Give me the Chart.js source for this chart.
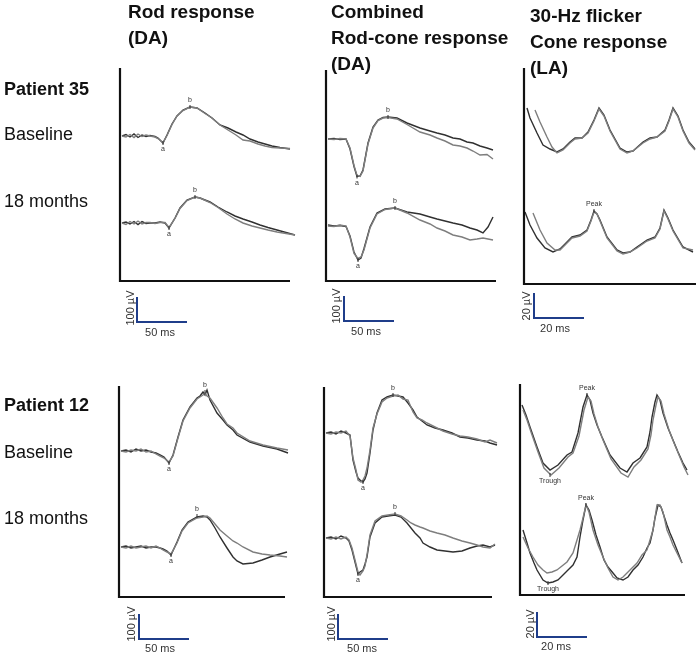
<!DOCTYPE html>
<html><head><meta charset="utf-8">
<script src="https://cdn.jsdelivr.net/npm/chart.js@4.4.0/dist/chart.umd.min.js"></script>
<style>
html,body{margin:0;padding:0;background:#fff;}
#wrap{position:relative;width:696px;height:654px;overflow:hidden;font-family:"Liberation Sans",Arial,sans-serif;color:#111;}
canvas.layer{position:absolute;left:0;top:0;}
.t{position:absolute;font-weight:bold;font-size:19px;line-height:26px;white-space:nowrap;}
.s{position:absolute;left:4px;font-size:18px;line-height:20px;white-space:nowrap;}
.b{font-weight:bold;}
.sb{position:absolute;font-size:11px;line-height:12px;color:#333;white-space:nowrap;transform:translate(-50%,-50%);}
.rot{transform:translate(-50%,-50%) rotate(-90deg);}
</style></head>
<body>
<div id="wrap">
<canvas class="layer" id="c1" width="696" height="654"></canvas>
<canvas class="layer" id="c2" width="696" height="654"></canvas>
<canvas class="layer" id="c3" width="696" height="654"></canvas>
<canvas class="layer" id="c4" width="696" height="654"></canvas>
<canvas class="layer" id="c5" width="696" height="654"></canvas>
<canvas class="layer" id="c6" width="696" height="654"></canvas>

<div class="t" style="left:128px;top:-1px">Rod response<br>(DA)</div>
<div class="t" style="left:331px;top:-1px">Combined<br>Rod-cone response<br>(DA)</div>
<div class="t" style="left:530px;top:3px">30-Hz flicker<br>Cone response<br>(LA)</div>

<div class="s b" style="top:79px">Patient 35</div>
<div class="s" style="top:124px">Baseline</div>
<div class="s" style="top:191px">18 months</div>
<div class="s b" style="top:395px">Patient 12</div>
<div class="s" style="top:442px">Baseline</div>
<div class="s" style="top:508px">18 months</div>

<div class="sb rot" style="left:130px;top:308px">100 µV</div>
<div class="sb" style="left:160px;top:332px">50 ms</div>
<div class="sb rot" style="left:336px;top:306px">100 µV</div>
<div class="sb" style="left:366px;top:331px">50 ms</div>
<div class="sb rot" style="left:526px;top:306px">20 µV</div>
<div class="sb" style="left:555px;top:328px">20 ms</div>
<div class="sb rot" style="left:131px;top:624px">100 µV</div>
<div class="sb" style="left:160px;top:648px">50 ms</div>
<div class="sb rot" style="left:331px;top:624px">100 µV</div>
<div class="sb" style="left:362px;top:648px">50 ms</div>
<div class="sb rot" style="left:530px;top:624px">20 µV</div>
<div class="sb" style="left:556px;top:646px">20 ms</div>
</div>

<script>
// ===== DATA (time in ms, amplitude in µV) =====
// Patient 35 – Rod response (DA)
const p35RodBaseTime = [2,6,10,14,18,22,26,30,35,38,43,47,52,57,63,70,77,85,92,100,108,116,123,130,138,145,152,160,170,177];
const p35RodBaseRun1 = [0,6,-4,8,-6,4,-2,2,-2,-8,-28,4,48,80,104,116,112,92,72,44,32,16,4,-12,-24,-32,-40,-46,-52,-54];
const p35RodBaseRun2 = [0,-4,6,-6,8,-2,4,0,-4,-10,-26,2,46,80,102,116,112,90,72,44,24,4,-16,-20,-32,-40,-46,-48,-50,-52];
const p35Rod18Time = [2,6,10,14,18,22,26,30,35,40,45,49,55,60,67,75,80,90,98,107,115,123,132,140,148,157,166,175];
const p35Rod18Run1 = [0,4,-4,6,-6,6,-2,0,0,4,0,-20,20,60,92,104,100,84,64,44,28,16,4,-8,-18,-28,-38,-48];
const p35Rod18Run2 = [0,-6,6,-4,8,-4,2,2,-2,2,2,-18,18,58,90,104,100,82,62,36,16,0,-12,-20,-28,-36,-42,-48];

// Patient 35 – Combined rod-cone response (DA)
const p35CombBaseTime = [2,8,14,20,24,28,31,34,37,42,47,52,57,62,71,81,94,104,111,119,127,134,141,147,154,161,167];
const p35CombBaseRun1 = [0,2,-2,0,-40,-110,-150,-148,-124,-16,48,76,86,88,84,64,44,32,24,16,4,0,-12,-16,-28,-36,-44];
const p35CombBaseRun2 = [0,-2,2,0,-36,-106,-146,-150,-128,-20,44,74,84,86,80,58,28,16,4,-8,-24,-28,-36,-48,-64,-62,-80];
const p35Comb18Time = [2,8,14,20,24,28,32,35,38,44,51,59,69,81,94,104,111,119,127,136,144,151,157,162,167];
const p35Comb18Run1 = [4,0,2,-2,-40,-104,-136,-128,-90,-4,52,68,72,56,48,36,28,20,12,4,-8,-16,-28,-4,36];
const p35Comb18Run2 = [0,-2,4,0,-44,-110,-130,-124,-96,-8,48,66,72,52,24,8,-8,-20,-36,-44,-56,-52,-48,-52,-56];

// Patient 35 – 30-Hz flicker cone response (LA)
const p35FlkBaseTime1 = [1.2,2.4,5.2,7.6,10.4,13.2,15.6,18.4,20.4,23.2,25.6,28,30,32,34.4,38.4,41.2,43.6,47.6,50.4,53.2,56.4,58,59.6,61.6,63.6,66,68.4];
const p35FlkBaseRun1  = [17.6,9.6,-2.4,-12,-15.2,-17.6,-15.2,-9.6,-6.4,-6.4,-1.6,8,17.6,12,0,-14.4,-17.6,-16.8,-9.6,-6.4,-5.6,0,8,17.6,11.2,0,-9.6,-15.2];
const p35FlkBaseTime2 = [4.4,6.4,9.2,11.2,13.2,15.6,18.4,20.4,23.2,25.6,28,30,32,34.4,38.4,41.2,43.6,47.6,50.4,53.2,56.4,58,59.6,61.6,63.6,66,68.4];
const p35FlkBaseRun2  = [16,6.4,-5.6,-13.6,-18.4,-16,-10.4,-7.2,-6.4,-2.4,7.2,16.8,11.2,-0.8,-15.2,-18.4,-16.8,-10.4,-7.2,-5.6,-0.8,7.2,16.8,10.4,-0.8,-10.4,-16];
const p35Flk18Time1 = [0.4,2.4,5.2,8.4,11.6,14.4,17.2,19.2,22.4,25.2,26.8,28,29.2,30.4,33.2,37.2,39.6,42.4,45.2,49.2,52.4,54.4,56,57.6,59.6,63.6,67.6];
const p35Flk18Run1  = [16,5.6,-4.8,-12.8,-16,-13.6,-8,-4,-2.4,1.6,9.6,16.8,14.4,9.6,-4,-14.4,-16.8,-16,-12,-6.4,-4,3.2,17.6,11.2,1.6,-12,-16];
const p35Flk18Time2 = [3.6,6.4,9.2,12.4,14.4,17.2,19.2,22.4,25.2,26.8,28,29.2,30.4,33.2,37.2,39.6,42.4,45.2,49.2,52.4,54.4,56,57.6,59.6,63.6,67.6];
const p35Flk18Run2  = [15.2,1.6,-8.8,-14.4,-14.4,-8.8,-4.8,-3.2,0.8,8.8,16,14.4,8.8,-4.8,-15.2,-17.6,-16,-12.8,-7.2,-4.8,2.4,16.8,10.4,0.8,-12.8,-14.4];

// Patient 12 – Rod response (DA)
const p12RodBaseTime = [2,7,12,17,22,27,32,37,41,45,50,54,59,64,71,78,81,84,86,88,91,98,104,108,114,118,131,144,158,169];
const p12RodBaseRun1 = [0,4,-4,8,0,4,-4,-8,-16,-24,-48,-16,56,124,176,212,220,236,224,244,204,152,124,104,84,64,36,20,8,-8];
const p12RodBaseRun2 = [0,-4,4,0,8,-4,0,-12,-20,-28,-44,-20,52,120,172,208,216,224,232,220,212,172,132,108,92,72,40,24,12,4];
const p12Rod18Time = [2,7,12,17,22,27,32,37,41,44,48,52,58,63,69,78,84,88,91,96,101,108,114,118,124,134,143,151,161,168,179];
const p12Rod18Run1 = [0,4,-4,0,4,-4,0,0,-4,-8,-16,-32,20,68,100,120,124,120,108,76,40,-4,-40,-56,-68,-64,-52,-40,-28,-20,-12];
const p12Rod18Run2 = [0,-4,4,-4,0,4,-4,4,-4,-12,-20,-28,16,64,96,116,120,124,116,92,68,44,24,16,0,-20,-28,-32,-36,-40,-48];

// Patient 12 – Combined rod-cone response (DA)
const p12CombBaseTime = [2,7,12,17,22,26,29,32,34,37,39,41,43,46,49,53,58,63,69,74,79,84,89,93,98,103,111,119,128,136,144,153,161,166,173,179,184];
const p12CombBaseRun1 = [0,4,-4,8,0,-8,-108,-156,-180,-192,-196,-184,-160,-80,12,80,132,144,152,148,144,120,92,64,48,32,20,12,0,-16,-20,-28,-32,-40,-48,-68,-88];
const p12CombBaseRun2 = [0,-4,4,0,8,-12,-100,-148,-188,-196,-188,-172,-140,-68,20,76,124,140,148,152,136,132,84,60,52,40,24,8,-4,-12,-16,-24,-36,-28,-40,-52,-56];
const p12Comb18Time = [2,7,12,17,22,25,28,31,33,34,36,39,41,43,46,51,58,64,71,77,83,87,91,96,99,106,113,121,129,138,146,153,159,166,171,176,180];
const p12Comb18Run1 = [0,4,-4,8,0,-12,-48,-96,-128,-144,-136,-128,-104,-76,4,60,84,88,92,84,60,40,20,0,-20,-36,-48,-52,-56,-52,-40,-32,-28,-36,-28,-48,-60];
const p12Comb18Run2 = [0,-4,4,-4,4,-8,-40,-88,-120,-136,-148,-132,-112,-68,12,68,88,92,96,88,72,60,52,44,40,28,20,12,0,-12,-20,-28,-36,-40,-24,-44,-56];

// Patient 12 – 30-Hz flicker cone response (LA)
const p12FlkBaseTime1 = [0.8,2.4,4,6.8,9.2,12,15.2,18.8,20.8,23.2,25.2,26.8,28,29.2,30.8,32.8,36,40,42.8,45.2,48,50.8,52,52.8,54,54.8,56,57.2,59.2,61.2,63.2,65.2,66.8];
const p12FlkBaseRun1  = [28,20,10.4,-5.6,-18.4,-24,-20,-12,-9.6,5.6,26.4,36,32,21.6,12,2.4,-12,-22.4,-25.6,-18.4,-14.4,-5.6,6.4,18.4,30.4,36,32,21.6,9.6,0,-9.6,-18.4,-24];
const p12FlkBaseTime2 = [1.2,2.8,4.4,7.2,9.6,12.4,15.6,19.2,21.2,23.6,25.6,27.2,28.4,29.6,31.2,33.2,36.4,40.4,43.2,45.6,48.4,51.2,52.4,53.2,54.4,55.2,56.4,57.6,59.6,61.6,63.6,65.6,67.2];
const p12FlkBaseRun2  = [24,16,6.4,-9.6,-22.4,-28,-22.4,-13.6,-10.4,3.2,24,34.4,31.2,20.8,10.4,0,-15.2,-26.4,-29.6,-21.6,-16,-7.2,4,16,28,34.4,31.2,20.8,8,-2.4,-12,-21.6,-28];
const p12Flk18Time1 = [1.2,2.8,4,5.6,6.8,9.2,11.2,13.2,15.2,17.2,19.2,21.2,22.8,24,25.2,26.4,27.6,28.8,30.4,32,33.6,35.2,37.2,38.8,41.2,43.2,45.2,47.2,49.2,50.8,52,53.2,54,55.2,56.4,57.2,58.8,60,61.2,62.8,64.8];
const p12Flk18Run1  = [12,1.6,-6.4,-14.4,-20,-28,-30.4,-29.6,-28,-24,-20,-16,-9.6,6.4,20,32,28,20,8,-1.6,-12,-17.6,-22.4,-26.4,-28,-25.6,-20,-16,-9.6,-2.4,1.6,12,21.6,32,30.4,25.6,16,9.6,4,-4,-14.4];
const p12Flk18Time2 = [1.2,3.2,5.2,7.2,9.2,10.8,12.8,14.8,16.8,18.8,21.2,22.8,24,25.2,26.4,27.6,29.2,31.2,33.2,35.2,37.2,39.2,41.2,42.8,44.8,46.8,48.8,50.8,52,53.2,54.8,56,57.2,58.8,60,61.2,62.8,64.8];
const p12Flk18Run2  = [6.4,-2.4,-9.6,-16,-20,-22.4,-21.6,-20,-16.8,-13.6,-6.4,4,12,21.6,32,26.4,12,0,-9.6,-18.4,-25.6,-28,-25.6,-22.4,-18.4,-14.4,-8,-4,4,12,32,32,26.4,12,6.4,0,-6.4,-14.4];

// Waveform component labels [recording index, time ms, µV, label, below?]
const p35RodMarks  = [[0,43,-28,'a',true],[0,70,116,'b',false],[1,49,-20,'a',true],[1,75,104,'b',false]];
const p35CombMarks = [[0,31,-150,'a',true],[0,62,88,'b',false],[1,32,-136,'a',true],[1,69,72,'b',false]];
const p35FlkMarks  = [[1,28,16.8,'Peak',false]];
const p12RodMarks  = [[0,50,-48,'a',true],[0,86,236,'b',false],[1,52,-32,'a',true],[1,78,124,'b',false]];
const p12CombMarks = [[0,39,-196,'a',true],[0,69,152,'b',false],[1,34,-144,'a',true],[1,71,96,'b',false]];
const p12FlkMarks  = [[0,26.8,36,'Peak',false],[0,12,-28,'Trough',true],[1,26.4,32,'Peak',false],[1,11.2,-30.4,'Trough',true]];

// ===== PANELS (layout) =====
const DARK = '#303030', GREY = '#7e7e7e';
const panels = [
  {id:'c1', area:[120,68,290,281], pxX:1.0, pxY:0.25, off:[580,232], bar:[137,322,50,100], marks:p35RodMarks,
   tr:[[p35RodBaseTime,p35RodBaseRun2,0,GREY],[p35RodBaseTime,p35RodBaseRun1,0,DARK],[p35Rod18Time,p35Rod18Run2,1,GREY],[p35Rod18Time,p35Rod18Run1,1,DARK]]},
  {id:'c2', area:[326,70,496,281], pxX:1.0, pxY:0.25, off:[568,220], bar:[344,321,50,100], marks:p35CombMarks,
   tr:[[p35CombBaseTime,p35CombBaseRun2,0,GREY],[p35CombBaseTime,p35CombBaseRun1,0,DARK],[p35Comb18Time,p35Comb18Run2,1,GREY],[p35Comb18Time,p35Comb18Run1,1,DARK]]},
  {id:'c3', area:[524,68,696,284], pxX:2.5, pxY:1.25, off:[123.2,41.6], bar:[534,318,20,20], marks:p35FlkMarks,
   tr:[[p35FlkBaseTime2,p35FlkBaseRun2,0,GREY],[p35FlkBaseTime1,p35FlkBaseRun1,0,DARK],[p35Flk18Time2,p35Flk18Run2,1,GREY],[p35Flk18Time1,p35Flk18Run1,1,DARK]]},
  {id:'c4', area:[119,386,285,597], pxX:1.0, pxY:0.25, off:[584,200], bar:[139,639,50,100], marks:p12RodMarks,
   tr:[[p12RodBaseTime,p12RodBaseRun2,0,GREY],[p12RodBaseTime,p12RodBaseRun1,0,DARK],[p12Rod18Time,p12Rod18Run2,1,GREY],[p12Rod18Time,p12Rod18Run1,1,DARK]]},
  {id:'c5', area:[324,387,492,597], pxX:1.0, pxY:0.25, off:[656,236], bar:[338,639,50,100], marks:p12CombMarks,
   tr:[[p12CombBaseTime,p12CombBaseRun2,0,GREY],[p12CombBaseTime,p12CombBaseRun1,0,DARK],[p12Comb18Time,p12Comb18Run2,1,GREY],[p12Comb18Time,p12Comb18Run1,1,DARK]]},
  {id:'c6', area:[520,384,685,595], pxX:2.5, pxY:1.25, off:[124,40], bar:[537,637,20,20], marks:p12FlkMarks,
   tr:[[p12FlkBaseTime2,p12FlkBaseRun2,0,GREY],[p12FlkBaseTime1,p12FlkBaseRun1,0,DARK],[p12Flk18Time2,p12Flk18Run2,1,GREY],[p12Flk18Time1,p12Flk18Run1,1,DARK]]}
];

const framePlugin = {
  id: 'frame',
  afterDraw(chart, args, o) {
    const {ctx, chartArea: a, scales: {x, y}} = chart;
    ctx.save();
    ctx.strokeStyle = '#111'; ctx.lineWidth = 2.2;
    ctx.beginPath(); ctx.moveTo(a.left, a.top); ctx.lineTo(a.left, a.bottom); ctx.lineTo(a.right, a.bottom); ctx.stroke();
    const [cx, cy, xl, yl] = o.bar;
    const w = x.getPixelForValue(xl) - x.getPixelForValue(0);
    const h = y.getPixelForValue(0) - y.getPixelForValue(yl);
    ctx.strokeStyle = '#1f3d8a'; ctx.lineWidth = 2;
    ctx.beginPath(); ctx.moveTo(cx, cy - h); ctx.lineTo(cx, cy); ctx.lineTo(cx + w, cy); ctx.stroke();
    ctx.fillStyle = '#333'; ctx.strokeStyle = '#333'; ctx.lineWidth = 1;
    ctx.font = '7px "Liberation Sans", Arial, sans-serif'; ctx.textAlign = 'center';
    o.marks.forEach(([r, t, v, lab, below]) => {
      const px = x.getPixelForValue(t), py = y.getPixelForValue(v + o.off[r]);
      ctx.beginPath(); ctx.moveTo(px, py - 2); ctx.lineTo(px, py + 2); ctx.stroke();
      if (below) { ctx.textBaseline = 'top'; ctx.fillText(lab, px, py + 3); }
      else { ctx.textBaseline = 'bottom'; ctx.fillText(lab, px, py - 3); }
    });
    ctx.restore();
  }
};

panels.forEach(p => {
  const [l, t, r, b] = p.area;
  const datasets = p.tr.map(([tt, vv, rec, col]) => ({
    data: tt.map((ti, i) => ({x: ti, y: vv[i] + p.off[rec]})),
    borderColor: col, borderWidth: 1.4, pointRadius: 0, tension: 0, fill: false, clip: false
  }));
  new Chart(document.getElementById(p.id), {
    type: 'line',
    data: {datasets},
    options: {
      responsive: false, devicePixelRatio: 1, animation: false, events: [],
      layout: {padding: {left: l, top: t, right: 696 - r, bottom: 654 - b}},
      scales: {
        x: {type: 'linear', display: false, min: 0, max: (r - l) / p.pxX},
        y: {type: 'linear', display: false, min: 0, max: (b - t) / p.pxY}
      },
      plugins: {legend: {display: false}, tooltip: {enabled: false},
        frame: {bar: p.bar, marks: p.marks, off: p.off}}
    },
    plugins: [framePlugin]
  });
});
</script>
</body></html>
